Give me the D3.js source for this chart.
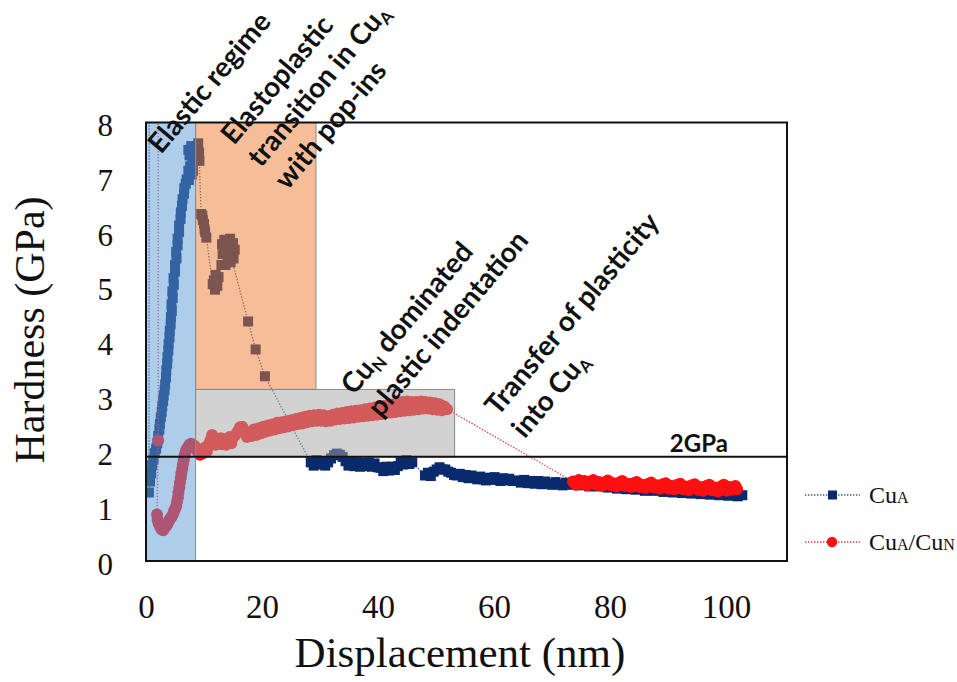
<!DOCTYPE html>
<html><head><meta charset="utf-8">
<script src="https://cdn.jsdelivr.net/npm/d3@7"></script>
<style>body{margin:0;background:#fff}svg{display:block}</style>
</head><body>
<svg id="chart" width="957" height="682"></svg>
<script>
// ---------------- data ----------------
const xTicks = [0, 20, 40, 60, 80, 100];
const yTicks = [0, 1, 2, 3, 4, 5, 6, 7, 8];
const xDomain = [0, 110.5];
const yDomain = [0, 8];
const thresholdGPa = 1.9;          // the "2GPa" reference line as drawn
const thresholdLabel = "2GPa";

// Cu_A : [displacement nm, hardness GPa]
const cuA = [
[0.6,12.0],
[0.5,1.25],[0.7,1.45],[0.9,1.6],[1.05,1.75],[1.3,1.85],[1.5,1.97],[1.75,2.05],[1.95,2.15],[2.1,2.28],[2.3,2.4],[2.4,2.5],[2.55,2.62],[2.7,2.72],[2.8,2.82],[2.95,2.92],[3.05,3.02],[3.2,3.12],[3.3,3.22],[3.45,3.35],[3.5,3.48],[3.65,3.6],[3.7,3.72],[3.85,3.84],[3.9,3.96],[4.05,4.08],[4.1,4.2],[4.25,4.32],[4.3,4.45],[4.45,4.56],[4.4,4.68],[4.6,4.8],[4.55,4.92],[4.8,5.04],[4.75,5.16],[5.0,5.28],[5.0,5.4],[5.25,5.52],[5.2,5.64],[5.45,5.76],[5.45,5.88],[5.7,6.0],[5.7,6.12],[5.95,6.24],[6.0,6.36],[6.2,6.48],[6.3,6.6],[6.55,6.7],[6.6,6.8],[6.85,6.88],[7.0,6.96],[7.4,6.95],[7.9,7.05],[7.3,7.12],[8.1,7.12],[7.6,7.2],[8.0,7.35],[7.5,7.4],[7.9,7.45],[7.3,7.5],[8.2,7.52],[7.8,7.57],
[9.0,7.62],[9.15,7.45],[9.2,7.3],
[9.5,6.33],[9.7,6.3],[9.8,6.22],[10.0,6.15],[10.1,6.05],[10.2,6.0],[10.4,5.9],
[11.5,5.05],[11.9,4.95],[12.3,5.02],[12.5,5.18],[12.0,5.22],[11.7,5.12],
[13.0,5.4],[13.2,5.6],[13.1,5.78],[13.5,5.86],[14.0,5.84],[14.5,5.88],[15.0,5.8],[15.3,5.68],[15.1,5.52],[14.6,5.45],[14.1,5.58],[13.7,5.4],[13.5,5.65],[14.3,5.7],
[17.6,4.37],[18.9,3.86],[20.5,3.37],
[28.4,1.8],[28.9,1.74],[29.4,1.84],[29.9,1.76],[30.4,1.82],[30.9,1.74],[31.4,1.8],[31.9,1.87],[32.4,1.93],[32.9,1.96],[33.4,1.94],[33.9,1.9],[34.4,1.82],[34.9,1.74],[35.4,1.81],[35.9,1.73],[36.4,1.8],[36.9,1.72],[37.4,1.79],[37.9,1.73],[38.4,1.8],[38.9,1.72],[39.4,1.78],[39.9,1.71],[40.4,1.7],[40.9,1.64],[41.4,1.72],[41.9,1.65],[42.4,1.72],[42.9,1.66],[43.4,1.73],[43.9,1.81],[44.4,1.76],[44.9,1.84],[45.4,1.77],[45.9,1.8],
[48.1,1.56],[48.6,1.61],[49.1,1.55],[49.6,1.63],[50.1,1.67],[50.6,1.71],[51.1,1.67],[51.6,1.67],[52.1,1.63],[52.6,1.61],[53.1,1.57],[53.6,1.56],[54.1,1.59],[54.6,1.53],[55.1,1.57],[55.6,1.51],[56.1,1.56],[56.6,1.52],[57.1,1.49],[57.6,1.54],[58.1,1.49],[58.6,1.47],[59.1,1.52],[59.6,1.48],[60.1,1.53],[60.6,1.49],[61.1,1.46],[61.6,1.51],[62.1,1.47],[62.6,1.5],[63.2,1.46],
[64.0,1.47],[64.6,1.43],[65.2,1.48],[65.8,1.42],[66.4,1.46],[67.0,1.41],[67.6,1.46],[68.2,1.4],[68.8,1.45],[69.4,1.41],[70.0,1.39],[70.6,1.44],[71.2,1.4],[71.8,1.38],[72.4,1.43],[73.0,1.39],[73.6,1.43],
[74.0,1.42],[74.8,1.38],[75.6,1.42],[76.4,1.36],[77.2,1.4],[78.0,1.36],[78.8,1.38],[79.6,1.34],[80.4,1.36],[81.2,1.32],[82.0,1.35],[82.8,1.31],[83.6,1.34],[84.4,1.3],[85.2,1.32],[86.0,1.28],[86.8,1.31],[87.6,1.28],[88.4,1.3],[89.2,1.26],[90.0,1.28],[90.8,1.25],[91.6,1.27],[92.4,1.24],[93.2,1.26],[94.0,1.23],[94.8,1.25],[95.6,1.22],[96.4,1.24],[97.2,1.21],[98.0,1.23],[98.8,1.2],[99.6,1.22],[100.4,1.19],[101.2,1.21],[102.0,1.18],[102.8,1.2]
];

// Cu_A/Cu_N : [displacement nm, hardness GPa]
const cuACuN = [
[2.1,10.0],[2.1,2.2],
[1.9,0.85],[2.0,0.75],[2.2,0.68],[2.45,0.62],[2.7,0.58],[2.95,0.56],[3.2,0.6],[3.4,0.64],[3.65,0.66],[3.9,0.72],[4.1,0.76],[4.35,0.8],[4.6,0.84],[4.8,0.9],[5.0,0.95],[5.2,1.0],[5.35,1.08],[5.5,1.16],[5.6,1.25],[5.75,1.34],[5.85,1.43],[6.0,1.52],[6.1,1.6],[6.25,1.68],[6.35,1.76],[6.5,1.84],[6.65,1.92],[6.8,1.98],[7.0,2.04],[7.25,2.08],[7.5,2.12],[7.8,2.14],[8.1,2.12],[8.4,2.1],[8.7,2.04],
[9.0,1.98],[9.3,1.94],[9.6,2.02],[9.9,1.97],[10.2,2.07],[10.5,2.0],[10.8,2.12],[11.1,2.2],[11.4,2.3],[11.7,2.24],[12.0,2.12],[12.3,2.22],[12.6,2.14],[12.9,2.24],[13.2,2.13],[13.5,2.22],[13.8,2.12],[14.1,2.2],[14.4,2.26],[14.7,2.15],[15.0,2.25],[15.4,2.3],[15.8,2.36],[16.2,2.44],[16.6,2.45],[17.0,2.36],[17.4,2.26],[17.8,2.35],[18.2,2.28],[18.6,2.4],[19.0,2.3],[19.4,2.42],[19.8,2.33],[20.2,2.45],[20.6,2.36],[21.0,2.47],[21.4,2.38],[21.8,2.49],[22.2,2.4],[22.6,2.52],[23.0,2.42],[23.4,2.53],[23.8,2.44],[24.2,2.55],[24.6,2.46],[25.0,2.57],[25.4,2.48],[25.8,2.59],[26.2,2.5],[26.6,2.61],[27.0,2.51],[27.4,2.63],[27.8,2.53],[28.2,2.65],[28.6,2.55],[29.0,2.66],[29.4,2.56],[29.8,2.67],[30.2,2.56],[30.6,2.66],[31.0,2.55],[31.4,2.64],[31.8,2.56],[32.2,2.67],[32.6,2.58],[33.0,2.69],[33.4,2.59],[33.8,2.7],[34.2,2.6],[34.6,2.72],[35.0,2.61],[35.4,2.73],[35.8,2.62],[36.2,2.74],[36.6,2.63],[37.0,2.75],[37.4,2.64],[37.8,2.77],[38.2,2.65],[38.6,2.78],[39.0,2.66],[39.4,2.8],[39.8,2.67],[40.2,2.81],[40.6,2.68],[41.0,2.83],[41.4,2.7],[41.8,2.84],[42.2,2.71],[42.6,2.86],[43.0,2.72],[43.4,2.88],[43.8,2.73],[44.2,2.9],[44.6,2.74],[45.0,2.91],[45.4,2.75],[45.8,2.9],[46.2,2.76],[46.6,2.9],[47.0,2.77],[47.4,2.91],[47.8,2.78],[48.2,2.9],[48.6,2.78],[49.0,2.89],[49.4,2.77],[49.8,2.88],[50.2,2.76],[50.6,2.86],[51.0,2.75],[51.4,2.82],[51.9,2.77],
[73.6,1.45],[74.1,1.39],[74.6,1.48],[75.1,1.41],[75.6,1.46],[76.1,1.38],[76.6,1.45],[77.1,1.48],[77.6,1.39],[78.1,1.44],[78.6,1.37],[79.1,1.43],[79.6,1.47],[80.1,1.38],[80.6,1.42],[81.1,1.36],[81.6,1.43],[82.1,1.46],[82.6,1.37],[83.1,1.41],[83.6,1.35],[84.1,1.42],[84.6,1.44],[85.1,1.35],[85.6,1.39],[86.1,1.33],[86.6,1.41],[87.1,1.43],[87.6,1.34],[88.1,1.38],[88.6,1.32],[89.1,1.4],[89.6,1.42],[90.1,1.32],[90.6,1.37],[91.1,1.31],[91.6,1.39],[92.1,1.41],[92.6,1.31],[93.1,1.36],[93.6,1.29],[94.1,1.38],[94.6,1.4],[95.1,1.3],[95.6,1.35],[96.1,1.28],[96.6,1.37],[97.1,1.39],[97.6,1.29],[98.1,1.34],[98.6,1.27],[99.1,1.36],[99.6,1.39],[100.1,1.28],[100.6,1.35],[101.1,1.3],[101.6,1.37],[101.9,1.31]
];

// shaded regimes: [x0, x1, y0, y1] in data units
const regimeExtents = [
  [0, 8.55, 0, 8],
  [8.55, 29.3, 3.13, 8],
  [8.55, 53.2, 1.9, 3.13]
];
const regimeColors = ["#5B9BD5", "#ED7D31", "#A5A5A5"];

// annotation texts (lines of segments; sub = subscript)
const annotations = [
  [[{t:"Elastic regime"}]],
  [[{t:"Elastoplastic"}],[{t:"transition in Cu"},{t:"A",sub:true}],[{t:"with pop-ins"}]],
  [[{t:"Cu"},{t:"N",sub:true},{t:" dominated"}],[{t:"plastic indentation"}]],
  [[{t:"Transfer of plasticity"}],[{t:"into Cu"},{t:"A",sub:true}]]
];
const legendItems = [
  [{t:"Cu"},{t:"A",sc:true}],
  [{t:"Cu"},{t:"A",sc:true},{t:"/Cu"},{t:"N",sc:true}]
];

// ---------------- drawing ----------------
const svg = d3.select("#chart");
const serif = "'Liberation Serif','Times New Roman',serif";
const sans = "Lato,'Open Sans',sans-serif";
const x = d3.scaleLinear().domain(xDomain).range([146, 787]);
const y = d3.scaleLinear().domain(yDomain).range([561, 122.5]);

svg.append("rect").attr("width",957).attr("height",682).attr("fill","#fff");
svg.append("defs").append("clipPath").attr("id","clip")
  .append("rect").attr("x",x(xDomain[0])).attr("y",y(yDomain[1]))
  .attr("width",x(xDomain[1])-x(xDomain[0])).attr("height",y(yDomain[0])-y(yDomain[1]));

const plot = svg.append("g").attr("clip-path","url(#clip)");
const line = d3.line().x(d=>x(d[0])).y(d=>y(d[1]));

// series: Cu_A
plot.append("path").datum(cuA).attr("d",line).attr("fill","none")
  .attr("stroke","#3b5a9a").attr("stroke-width",1.3).attr("stroke-dasharray","1.4,1.6");
plot.append("g").selectAll("rect").data(cuA).join("rect")
  .attr("x",d=>x(d[0])-5).attr("y",d=>y(d[1])-5).attr("width",10).attr("height",10)
  .attr("fill","#0a2a6e");
// series: Cu_A/Cu_N
plot.append("path").datum(cuACuN).attr("d",line).attr("fill","none")
  .attr("stroke","#e04040").attr("stroke-width",1.3).attr("stroke-dasharray","1.4,1.6");
plot.append("g").selectAll("circle").data(cuACuN).join("circle")
  .attr("cx",d=>x(d[0])).attr("cy",d=>y(d[1])).attr("r",6)
  .attr("fill","#ff1010");

// translucent regime overlays (on top of the data)
plot.append("g").selectAll("rect").data(regimeExtents).join("rect")
  .attr("x",d=>x(d[0])).attr("y",d=>y(d[3]))
  .attr("width",d=>x(d[1])-x(d[0])).attr("height",d=>y(d[2])-y(d[3]))
  .attr("fill",(d,i)=>regimeColors[i]).attr("fill-opacity",0.5)
  .attr("stroke","#8a8a8a").attr("stroke-width",1);

// 2GPa line
svg.append("line").attr("x1",x(xDomain[0])).attr("x2",x(xDomain[1]))
  .attr("y1",y(thresholdGPa)).attr("y2",y(thresholdGPa))
  .attr("stroke","#111").attr("stroke-width",2);
svg.append("text").attr("x",x(90.3)).attr("y",y(thresholdGPa)-5)
  .attr("font-family",sans).attr("font-weight",700).attr("font-size",24)
  .attr("fill","#111").text(thresholdLabel);

// frame
svg.append("rect").attr("x",x(xDomain[0])).attr("y",y(yDomain[1]))
  .attr("width",x(xDomain[1])-x(xDomain[0])).attr("height",y(yDomain[0])-y(yDomain[1]))
  .attr("fill","none").attr("stroke","#111").attr("stroke-width",2);

// axes
const xAxis = svg.append("g").attr("transform",`translate(0,${y(0)})`)
  .call(d3.axisBottom(x).tickValues(xTicks).tickSize(0).tickPadding(34).tickFormat(d3.format("d")));
xAxis.select(".domain").remove();
xAxis.selectAll("text").attr("font-family",serif).attr("font-size",33).attr("fill","#111");

const yAxis = svg.append("g").attr("transform",`translate(${x(0)},0)`)
  .call(d3.axisLeft(y).tickValues(yTicks).tickSize(0).tickPadding(33).tickFormat(d3.format("d")));
yAxis.select(".domain").remove();
yAxis.selectAll("text").attr("font-family",serif).attr("font-size",31).attr("fill","#111").attr("dy","0.42em");

// axis titles
svg.append("text").attr("x",460).attr("y",667).attr("text-anchor","middle")
  .attr("font-family",serif).attr("font-size",43).attr("fill","#111").text("Displacement (nm)");
svg.append("text").attr("transform","translate(44,330) rotate(-90)").attr("text-anchor","middle")
  .attr("font-family",serif).attr("font-size",42).attr("fill","#111").text("Hardness (GPa)");

// annotations
const annPos = [[161,155],[234,146],[354,396],[498,417]];
const lineGap = 35;
annotations.forEach((lines,i)=>{
  const g = svg.append("g").attr("transform",`translate(${annPos[i][0]},${annPos[i][1]}) rotate(-50)`);
  lines.forEach((segs,j)=>{
    const t = g.append("text").attr("x",0).attr("y",j*lineGap)
      .attr("font-family",sans).attr("font-weight",700).attr("font-size",28).attr("fill","#111");
    let shifted = false;
    segs.forEach(s=>{
      const ts = t.append("tspan").text(s.t);
      if (s.sub) { ts.attr("font-size",17).attr("dy",5); shifted = true; }
      else if (shifted) { ts.attr("dy",-5); shifted = false; }
    });
  });
});

// legend
const legY = [495, 542];
legendItems.forEach((segs,i)=>{
  const g = svg.append("g").attr("transform",`translate(0,${legY[i]})`);
  g.append("line").attr("x1",805).attr("x2",860).attr("y1",0).attr("y2",0)
    .attr("stroke",i===0?"#3b5a9a":"#e04040").attr("stroke-width",1.3).attr("stroke-dasharray","1.4,1.6");
  if (i===0) g.append("rect").attr("x",828).attr("y",-4.5).attr("width",9).attr("height",9).attr("fill","#0a2a6e");
  else g.append("circle").attr("cx",832).attr("cy",0).attr("r",5.2).attr("fill","#ff1010");
  const t = g.append("text").attr("x",869).attr("y",8).attr("font-family",serif).attr("font-size",24).attr("fill","#111");
  segs.forEach(s=>{ const ts=t.append("tspan").text(s.t); if(s.sc) ts.attr("font-size",16); });
});
</script>
</body></html>
